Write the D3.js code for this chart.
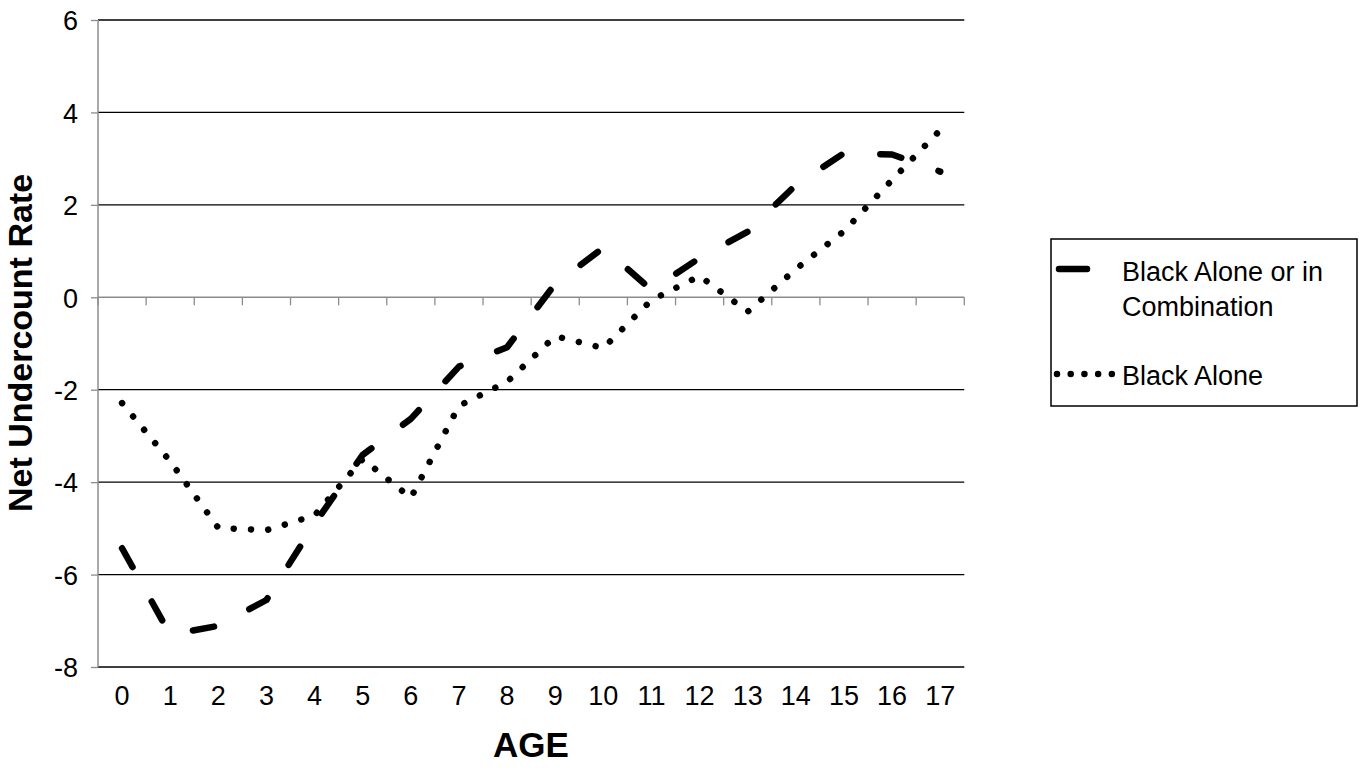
<!DOCTYPE html>
<html>
<head>
<meta charset="utf-8">
<script src="https://cdn.jsdelivr.net/npm/d3@7"></script>
<style>
  html, body { margin: 0; padding: 0; background: #fff; }
  svg { display: block; font-family: "Liberation Sans", Arial, sans-serif; }
</style>
</head>
<body>
<svg id="chart" width="1363" height="771"></svg>
<script>
// ---- data ----
const ages = ["0","1","2","3","4","5","6","7","8","9","10","11","12","13","14","15","16","17"];
const blackAloneOrInCombination = [-5.43, -7.3, -7.11, -6.55, -4.9, -3.41, -2.63, -1.50, -1.08, 0.29, 1.07, 0.16, 0.85, 1.42, 2.43, 3.12, 3.09, 2.72];
const blackAlone = [-2.29, -3.55, -4.99, -5.04, -4.72, -3.5, -4.34, -2.35, -1.83, -0.84, -1.1, -0.06, 0.46, -0.31, 0.61, 1.43, 2.54, 3.62];
const yTicks = [-8, -6, -4, -2, 0, 2, 4, 6];
const seriesNames = ["Black Alone or in", "Combination", "Black Alone"];

// ---- layout ----
const svg = d3.select("#chart");
const plotLeft = 98, plotRight = 964.3, plotTop = 20, plotBottom = 667;

const x = d3.scaleBand().domain(ages).range([plotLeft, plotRight]).paddingInner(0).paddingOuter(0);
const y = d3.scaleLinear().domain([-8, 6]).range([plotBottom, plotTop]);
const cx = d => x(d) + x.bandwidth() / 2;

// gridlines
svg.append("g").selectAll("line").data(yTicks.filter(t => t !== 0)).join("line")
  .attr("x1", plotLeft).attr("x2", plotRight)
  .attr("y1", d => y(d)).attr("y2", d => y(d))
  .attr("stroke", "#000").attr("stroke-width", 1.3);

// left axis (gray) with ticks
const yAxis = d3.axisLeft(y).tickValues(yTicks).tickSize(7).tickFormat(d3.format("d"));
const gy = svg.append("g").attr("transform", `translate(${plotLeft},0)`).call(yAxis);
gy.select(".domain").attr("stroke", "#8c8c8c").attr("stroke-width", 1.5).attr("d", `M0,${plotTop}V${plotBottom}`);
gy.selectAll(".tick line").attr("stroke", "#8c8c8c").attr("stroke-width", 1.3);
gy.selectAll(".tick text").attr("x", -20).attr("dy", "0.36em")
  .style("font-size", "27px").style("font-family", "Liberation Sans, Arial, sans-serif").attr("fill", "#000")
  .text(d => d < 0 ? "-" + Math.abs(d) : d);

// horizontal axis at 0 with tick marks at band boundaries
const bounds = ages.map(a => x(a)).concat([plotRight]);
svg.append("line").attr("x1", plotLeft).attr("x2", plotRight).attr("y1", y(0)).attr("y2", y(0))
  .attr("stroke", "#8c8c8c").attr("stroke-width", 1.5);
svg.append("g").selectAll("line").data(bounds).join("line")
  .attr("x1", d => d).attr("x2", d => d).attr("y1", y(0)).attr("y2", y(0) + 8)
  .attr("stroke", "#8c8c8c").attr("stroke-width", 1.3);

// category labels at bottom
svg.append("g").selectAll("text").data(ages).join("text")
  .attr("x", d => cx(d)).attr("y", 705)
  .attr("text-anchor", "middle").style("font-size", "27px").text(d => d);

// series lines
const line = d3.line().x((d, i) => cx(ages[i])).y(d => y(d));
svg.append("path").datum(blackAloneOrInCombination).attr("d", line)
  .attr("fill", "none").attr("stroke", "#000").attr("stroke-width", 6.5)
  .attr("stroke-linecap", "round").attr("stroke-linejoin", "round")
  .attr("stroke-dasharray", "21.5,39.5");
svg.append("path").datum(blackAlone).attr("d", line)
  .attr("fill", "none").attr("stroke", "#000").attr("stroke-width", 6.5)
  .attr("stroke-linecap", "round").attr("stroke-linejoin", "round")
  .attr("stroke-dasharray", "0.01,17.3");

// axis titles
svg.append("text").attr("x", 531).attr("y", 757).attr("text-anchor", "middle")
  .style("font-size", "35px").style("font-weight", "bold").text("AGE");
svg.append("text").attr("transform", "translate(32,343) rotate(-90)").attr("text-anchor", "middle")
  .style("font-size", "34px").style("font-weight", "bold").text("Net Undercount Rate");

// legend
const lg = svg.append("g");
lg.append("rect").attr("x", 1051).attr("y", 239).attr("width", 306).attr("height", 167)
  .attr("fill", "#fff").attr("stroke", "#000").attr("stroke-width", 1.5);
lg.append("line").attr("x1", 1059).attr("x2", 1087).attr("y1", 269).attr("y2", 269)
  .attr("stroke", "#000").attr("stroke-width", 6.5).attr("stroke-linecap", "round");
lg.append("line").attr("x1", 1057).attr("x2", 1112).attr("y1", 374).attr("y2", 374)
  .attr("stroke", "#000").attr("stroke-width", 6.5).attr("stroke-linecap", "round")
  .attr("stroke-dasharray", "0.01,13.7");
lg.append("text").attr("x", 1122).attr("y", 281).style("font-size", "27px").text(seriesNames[0]);
lg.append("text").attr("x", 1122).attr("y", 316).style("font-size", "27px").text(seriesNames[1]);
lg.append("text").attr("x", 1122).attr("y", 385).style("font-size", "27px").text(seriesNames[2]);
</script>
</body>
</html>
